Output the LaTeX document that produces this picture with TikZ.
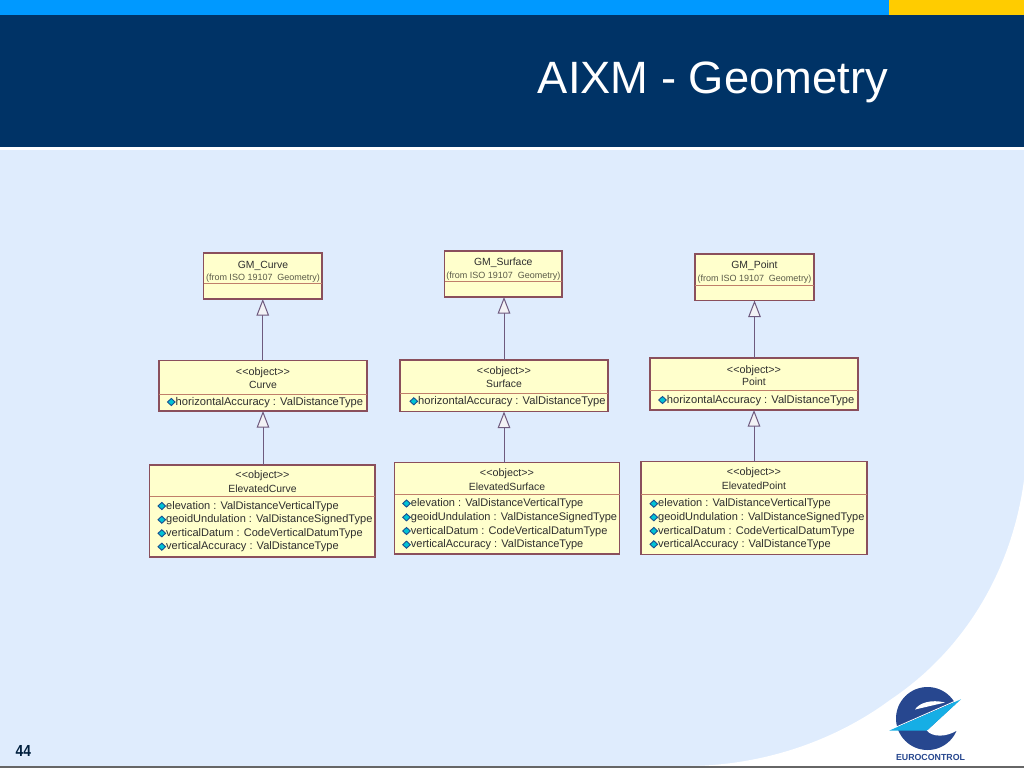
\documentclass[tikz,border=0pt]{standalone}
\usepackage{fontspec}
\setmainfont{Liberation Sans}
\usetikzlibrary{arrows.meta,shapes.geometric}
\definecolor{navy}{HTML}{003366}
\definecolor{strip}{HTML}{0099FF}
\definecolor{gold}{HTML}{FFCC00}
\definecolor{pale}{HTML}{DFECFD}
\definecolor{classfill}{HTML}{FFFFCC}
\definecolor{classline}{HTML}{8A4F5C}
\definecolor{divline}{HTML}{C07F6A}
\definecolor{genline}{HTML}{6E5A7E}
\definecolor{txt}{HTML}{2E2E2E}
\definecolor{fromtxt}{HTML}{5A5A48}
\definecolor{logoblue}{HTML}{27478F}
\definecolor{logocyan}{HTML}{16AEE5}
\definecolor{gemcyan}{HTML}{00C4D6}
\definecolor{gemedge}{HTML}{1A4F8F}
\newcommand{\widerow}{\fontsize{11.15}{13}\selectfont}
\tikzset{
  classbox/.style={draw=classline,fill=classfill,line width=1.25pt,inner sep=0pt,outer sep=0pt},
  divider/.style={draw=divline,line width=1pt},
  gen/.style={draw=genline,line width=1pt,-{Triangle[open,length=16.5pt,width=12.5pt,fill=white!92!genline]}},
  attr/.style={anchor=base west,inner sep=0pt,text=txt,font=\fontsize{11.03}{13}\selectfont},
  centre/.style={anchor=base,inner sep=0pt,text=txt,font=\fontsize{10.4}{13}\selectfont},
  stereo/.style={anchor=base,inner sep=0pt,text=txt,font=\fontsize{10.8}{13}\selectfont},
  fromnote/.style={anchor=base,inner sep=0pt,text=fromtxt,font=\fontsize{9}{11}\selectfont},
  gem/.style={diamond,draw=gemedge,fill=gemcyan,line width=0.9pt,inner sep=0pt,minimum width=8pt,minimum height=7.5pt},
}
% name, x1, y1, x2, y2, divider y
\newcommand{\umlclass}[6]{%
  \pgfmathsetmacro{\cx}{(#2+#4)/2}\pgfmathsetmacro{\cy}{(#3+#5)/2}%
  \pgfmathsetmacro{\bw}{#4-#2}\pgfmathsetmacro{\bh}{#5-#3}%
  \node[classbox,minimum width=\bw pt,minimum height=\bh pt] (#1) at (\cx,\cy) {};
  \draw[divider] (#1.west |- 0,#6) -- (#1.east |- 0,#6);
}
% name, x of text, centre y, text
\newcommand{\umlattr}[4]{%
  \node[attr] (#1) at (#2,#3+4) {#4};
  \node[gem] (#1-gem) at (#2-4.2,#3+1) {};
}
\newcommand{\fromiso}{(from ISO 19107\hspace{0.55em}Geometry)}
\begin{document}
\begin{tikzpicture}[x=1pt,y=-1pt]
\useasboundingbox (0,0) rectangle (1024,768);
% backdrop
\fill[white] (0,0) rectangle (1024,768);
\fill[pale] (0,150) rectangle (1024,766);
\fill[white] (1024,480) .. controls (1012,570) and (965,650) .. (890,700)
   .. controls (840,737) and (770,765) .. (690,766) -- (1024,766) -- cycle;
\fill[strip] (0,0) rectangle (889,15);
\fill[gold] (889,0) rectangle (1024,15);
\fill[navy] (0,15) rectangle (1024,147);
\fill[black!60] (0,766.3) rectangle (1024,768);
\node[anchor=base east,inner sep=0pt,text=white,font=\fontsize{45.3}{50}\selectfont] (title) at (888,93) {AIXM - Geometry};
\node[anchor=base,inner sep=0pt,text=navy!60!black,xscale=0.86,font=\fontsize{16}{18}\selectfont\bfseries] (pagenum) at (23.3,756.5) {44};
% logo
\fill[logoblue] (927.5,718.5) circle (31.5);
\fill[white] (926.7,730.9) -- (961,699) -- (965,731) -- cycle;
\fill[white] (915,709.5) .. controls (919,703) and (931,699) .. (945,702.5) -- cycle;
\fill[white] (926.7,730.5) .. controls (932,737) and (946,738) .. (958.5,729.5) -- cycle;
\draw[white,line width=0.9pt] (889,730.2) -- (961,698.6);
\fill[logocyan] (961,699.3) -- (889,730.7) -- (926.7,730.7) -- cycle;
\node[anchor=base,inner sep=0pt,text=logoblue,font=\fontsize{8.8}{10}\selectfont\bfseries] (eurocontrol) at (930.5,760.3) {EUROCONTROL};
% column 1
\umlclass{gmcurve}{203.5}{253}{322}{299}{283}
\node[centre] (gmcurve-t) at (263,268) {GM\_Curve};
\node[fromnote] (gmcurve-f) at (263,280) {\fromiso};
\umlclass{curve}{159}{360.5}{367}{411}{394}
\node[stereo] (curve-s) at (263,375) {<{}<object>{}>};
\node[centre] (curve-t) at (263,388) {Curve};
\umlattr{curve-a}{175.5}{401}{\widerow horizontalAccuracy : ValDistanceType}
\umlclass{ecurve}{149.5}{465}{375}{557}{496}
\node[stereo] (ecurve-s) at (262.5,478) {<{}<object>{}>};
\node[centre] (ecurve-t) at (262.5,492) {ElevatedCurve};
\umlattr{ecurve-a}{166}{505}{elevation : ValDistanceVerticalType}
\umlattr{ecurve-b}{166}{518.7}{geoidUndulation : ValDistanceSignedType}
\umlattr{ecurve-c}{166}{532.3}{verticalDatum : CodeVerticalDatumType}
\umlattr{ecurve-d}{166}{545.7}{verticalAccuracy : ValDistanceType}
% column 2
\umlclass{gmsurface}{444.5}{251}{562}{297}{281}
\node[centre] (gmsurface-t) at (503.3,265) {GM\_Surface};
\node[fromnote] (gmsurface-f) at (503.3,278) {\fromiso};
\umlclass{surface}{400}{360}{608}{411.5}{393}
\node[stereo] (surface-s) at (504,374) {<{}<object>{}>};
\node[centre] (surface-t) at (504,387.3) {Surface};
\umlattr{surface-a}{418}{400.3}{\widerow horizontalAccuracy : ValDistanceType}
\umlclass{esurface}{394.5}{462.5}{619.5}{554}{494.7}
\node[stereo] (esurface-s) at (507,476.3) {<{}<object>{}>};
\node[centre] (esurface-t) at (507,490) {ElevatedSurface};
\umlattr{esurface-a}{410.7}{502.5}{elevation : ValDistanceVerticalType}
\umlattr{esurface-b}{410.7}{516.3}{geoidUndulation : ValDistanceSignedType}
\umlattr{esurface-c}{410.7}{530}{verticalDatum : CodeVerticalDatumType}
\umlattr{esurface-d}{410.7}{543.7}{verticalAccuracy : ValDistanceType}
% column 3
\umlclass{gmpoint}{695}{254}{814}{300.5}{285}
\node[centre] (gmpoint-t) at (754.5,268.3) {GM\_Point};
\node[fromnote] (gmpoint-f) at (754.5,281.5) {\fromiso};
\umlclass{point}{650}{358}{858}{410}{390}
\node[stereo] (point-s) at (754,373) {<{}<object>{}>};
\node[centre] (point-t) at (754,385.7) {Point};
\umlattr{point-a}{666.7}{399}{\widerow horizontalAccuracy : ValDistanceType}
\umlclass{epoint}{641}{461.5}{867}{554.5}{494}
\node[stereo] (epoint-s) at (754,475.7) {<{}<object>{}>};
\node[centre] (epoint-t) at (754,489.7) {ElevatedPoint};
\umlattr{epoint-a}{658}{502.7}{elevation : ValDistanceVerticalType}
\umlattr{epoint-b}{658}{516.3}{geoidUndulation : ValDistanceSignedType}
\umlattr{epoint-c}{658}{530}{verticalDatum : CodeVerticalDatumType}
\umlattr{epoint-d}{658}{543.3}{verticalAccuracy : ValDistanceType}
% generalisations
\draw[gen] (curve.north -| gmcurve.south) -- (gmcurve.south);
\draw[gen] (ecurve.north -| curve.south) -- (curve.south);
\draw[gen] (surface.north) -- (surface.north |- gmsurface.south);
\draw[gen] (esurface.north -| surface.south) -- (surface.south);
\draw[gen] (point.north -| gmpoint.south) -- (gmpoint.south);
\draw[gen] (epoint.north -| point.south) -- (point.south);
\end{tikzpicture}
\end{document}
